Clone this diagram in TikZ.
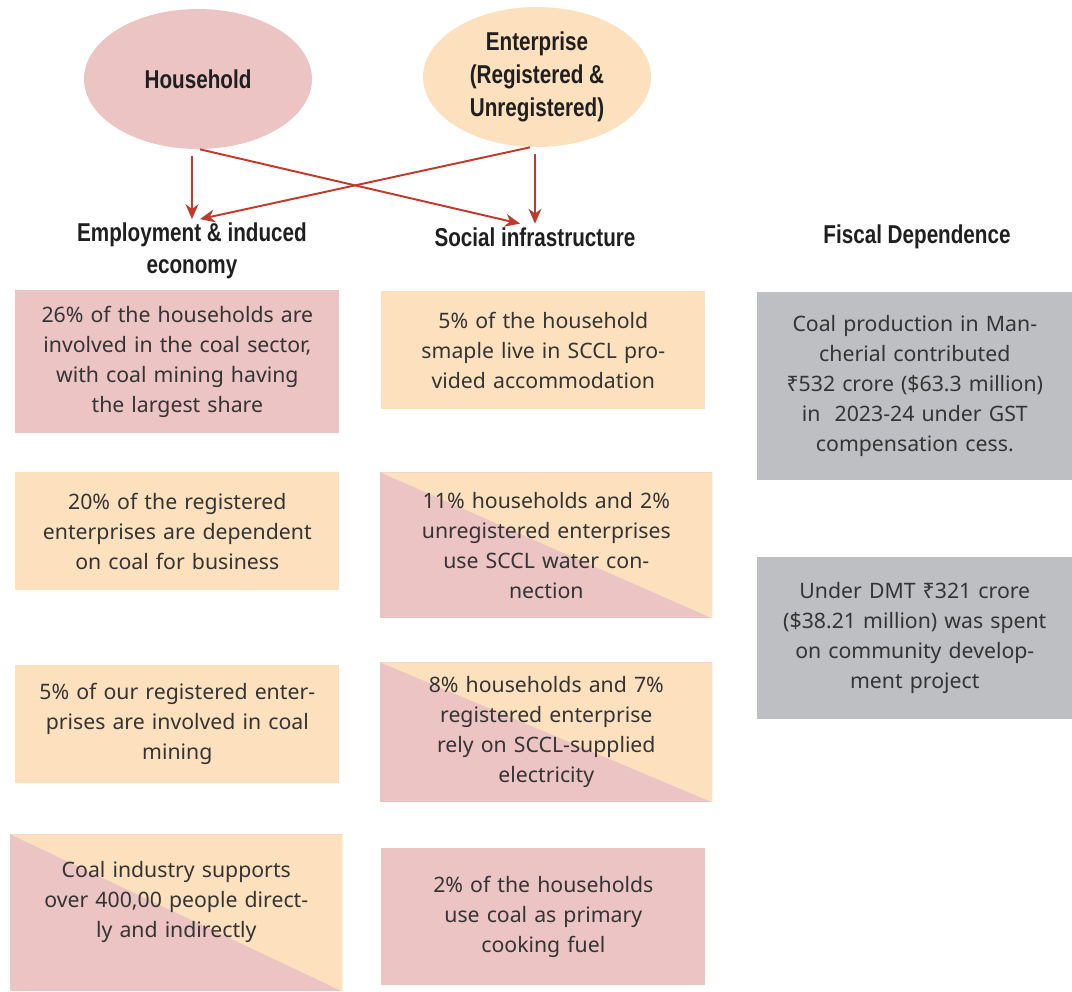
\documentclass[tikz,border=0pt]{standalone}
\usepackage{fontspec}
\setmainfont{Noto Sans}
\newfontfamily\headfont[FakeStretch=0.8]{Liberation Sans}
\usetikzlibrary{arrows.meta,positioning,calc,shapes.geometric}
\definecolor{hhPink}{RGB}{235,196,195}
\definecolor{entPeach}{RGB}{253,224,190}
\definecolor{fiscGray}{RGB}{190,191,195}
\definecolor{arrowRed}{RGB}{192,57,43}
\definecolor{bodyGray}{RGB}{52,52,52}
\tikzset{
  source/.style={ellipse, minimum width=4.56cm, minimum height=2.8cm, inner sep=0pt, align=center,
                 font=\headfont\bfseries\fontsize{14.7}{18.6}\selectfont, text=black!88},
  headtext/.style={align=center, inner sep=2pt, font=\headfont\bfseries\fontsize{14.7}{18.2}\selectfont, text=black!88},
  factbox/.style={anchor=north west, inner sep=0pt, align=center, text=bodyGray,
                  font=\fontsize{12.1}{17.1}\selectfont},
  pinkbox/.style={factbox, fill=hhPink},
  peachbox/.style={factbox, fill=entPeach},
  graybox/.style={factbox, fill=fiscGray},
  splitbox/.style={factbox, fill=hhPink,
    path picture={\fill[entPeach] (path picture bounding box.north west) -- (path picture bounding box.north east)
                  -- (path picture bounding box.south east) -- cycle;}},
  link/.style={-{Stealth[length=3mm,width=2.6mm]}, draw=arrowRed, line width=1.1pt}
}
\begin{document}
\begin{tikzpicture}[x=0.02cm, y=-0.02cm]
\useasboundingbox (0,0) rectangle (1072,991);

% sources
\node[source, fill=hhPink] (hh) at (198,79) {Household};
\node[source, fill=entPeach] (ent) at (537,77) {Enterprise\\(Registered \&\\Unregistered)};

% column headings
\node[headtext] (emp) at (192,251) {Employment \& induced\\economy};
\node[headtext] (soc) at (535,237) {Social infrastructure};
\node[headtext] (fisc) at (917,237) {Fiscal Dependence};

\draw[link] ($(hh.south -| emp.north)+(0,7)$) -- (emp.north);
\draw[link] ($(hh.south)+(2,0)$) -- ($(soc.north)+(-15,0)$);
\draw[link] ($(ent.south -| soc.north)+(0,7)$) -- (soc.north);
\draw[link] ($(ent.south)+(-7,0)$) -- ($(emp.north)+(8,0)$);

% employment column
\node[pinkbox, minimum width=6.48cm, minimum height=2.86cm, text width=6.4cm] (e1) at (15,290)
  {26\% of the households are\\involved in the coal sector,\\with coal mining having\\the largest share};
\node[peachbox, minimum width=6.48cm, minimum height=2.36cm, text width=6.4cm] (e2) at (15,472)
  {20\% of the registered\\enterprises are dependent\\on coal for business};
\node[peachbox, minimum width=6.48cm, minimum height=2.36cm, text width=6.4cm] (e3) at (15,665)
  {5\% of our registered enter-\\prises are involved in coal\\mining};
\node[splitbox, minimum width=6.64cm, text width=6.64cm, text height=0.86cm, text depth=2.28cm] (e4) at (10,834)
  {Coal industry supports\\over 400,00 people direct-\\ly and indirectly};

% social infrastructure column
\node[peachbox, minimum width=6.48cm, minimum height=2.36cm, text width=6.4cm] (s1) at (381,291)
  {5\% of the household\\smaple live in SCCL pro-\\vided accommodation};
\node[splitbox, minimum width=6.64cm, minimum height=2.92cm, text width=6.6cm] (s2) at (380,472)
  {11\% households and 2\%\\unregistered enterprises\\use SCCL water con-\\nection};
\node[splitbox, minimum width=6.64cm, minimum height=2.8cm, text width=6.6cm] (s3) at (380,662)
  {8\% households and 7\%\\registered enterprise\\rely on SCCL-supplied\\electricity};
\node[pinkbox, minimum width=6.48cm, minimum height=2.74cm, text width=6.4cm] (s4) at (381,848)
  {2\% of the households\\use coal as primary\\cooking fuel};

% fiscal column
\node[graybox, minimum width=6.3cm, minimum height=3.76cm, text width=6.25cm] (f1) at (757,292)
  {Coal production in Man-\\cherial contributed\\₹532 crore (\$63.3 million)\\in\ \ 2023-24 under GST\\compensation cess.};
\node[graybox, minimum width=6.3cm, minimum height=3.24cm, text width=6.25cm] (f2) at (757,557)
  {Under DMT ₹321 crore\\(\$38.21 million) was spent\\on community develop-\\ment project};
\end{tikzpicture}
\end{document}
